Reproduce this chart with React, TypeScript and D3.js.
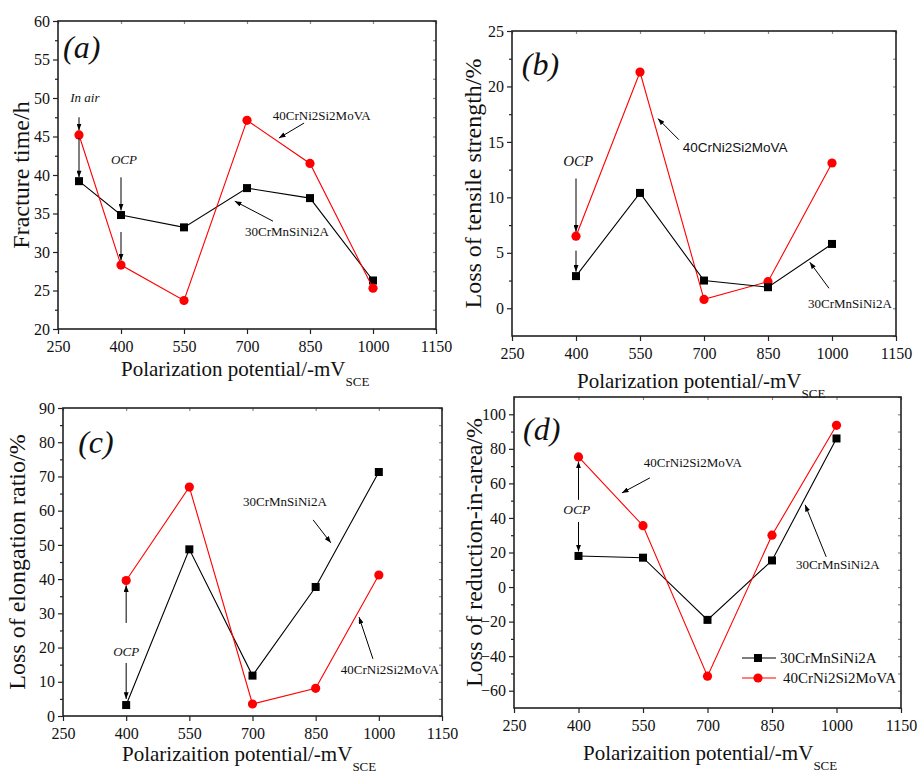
import React, { useEffect, useRef } from "react";
import * as d3 from "d3";

// x values (polarization potential, -mV SCE)
const potentialsA = [300, 400, 550, 700, 850, 1000];
const potentials = [400, 550, 700, 850, 1000];
const xTickValues = [250, 400, 550, 700, 850, 1000, 1150];

// (a) fracture time / h
const fracture30 = [39.2, 34.8, 33.2, 38.3, 37.0, 26.3];
const fracture40 = [45.2, 28.3, 23.7, 47.1, 41.5, 25.3];

// (b) loss of tensile strength / %
const tensile30 = [2.9, 10.4, 2.5, 1.9, 5.8];
const tensile40 = [6.5, 21.3, 0.8, 2.4, 13.1];

// (c) loss of elongation ratio / %
const elong30 = [3.2, 48.7, 11.8, 37.7, 71.3];
const elong40 = [39.6, 66.9, 3.5, 8.1, 41.2];

// (d) loss of reduction-in-area / %
const area30 = [18, 17, -19, 15.4, 86];
const area40 = [75.3, 35.5, -51.6, 30, 93.6];

const steel30 = "30CrMnSiNi2A";
const steel40 = "40CrNi2Si2MoVA";

const SERIF = "'Liberation Serif', 'Times New Roman', serif";
const SANS = "'Liberation Sans', Arial, sans-serif";

type Label = { text: string; x: number; y: number; size: number; italic?: boolean; sans?: boolean; anchor?: string };
type Arrow = { x1: number; y1: number; x2: number; y2: number };

type PanelCfg = {
    frame: { left: number; right: number; top: number; bottom: number };
    yDomain: [number, number];
    yTicks: number[];
    yMinor: number[];
    xs: number[];
    black: number[];
    red: number[];
    redOnTop: boolean;
    yLabel: string;
    yLabelX: number;
    xLabel: string;
    xLabelX: number;
    xLabelY: number;
    tag: string;
    tagPos: [number, number];
    labels: Label[];
    arrows: Arrow[];
    legend?: boolean;
};

const range = (a: number, b: number, s: number) => d3.range(a, b + s / 2, s);

const panels: PanelCfg[] = [
    {
        frame: { left: 58, right: 436, top: 21, bottom: 329 },
        yDomain: [20, 60],
        yTicks: range(20, 60, 5),
        yMinor: range(22.5, 57.5, 5),
        xs: potentialsA,
        black: fracture30,
        red: fracture40,
        redOnTop: true,
        yLabel: "Fracture time/h",
        yLabelX: 29,
        xLabel: "Polarization potential/-mV",
        xLabelX: 121,
        xLabelY: 376,
        tag: "(a)",
        tagPos: [262, 55.2],
        labels: [
            { text: "In air", x: 314, y: 49.5, size: 13, italic: true },
            { text: "OCP", x: 407, y: 41.4, size: 13, italic: true },
            { text: steel40, x: 878, y: 47.1, size: 13 },
            { text: steel30, x: 795, y: 32.1, size: 13 },
        ],
        arrows: [
            { x1: 300, y1: 47.5, x2: 300, y2: 45.8 },
            { x1: 300, y1: 44.8, x2: 300, y2: 39.7 },
            { x1: 400, y1: 39.7, x2: 400, y2: 35.4 },
            { x1: 400, y1: 32.6, x2: 400, y2: 28.9 },
            { x1: 836, y1: 46.75, x2: 776, y2: 44.8 },
            { x1: 762, y1: 34.0, x2: 671, y2: 36.6 },
        ],
    },
    {
        frame: { left: 512, right: 896, top: 31, bottom: 336 },
        yDomain: [-2.5, 25],
        yTicks: range(0, 25, 5),
        yMinor: range(-2.5, 22.5, 5),
        xs: potentials,
        black: tensile30,
        red: tensile40,
        redOnTop: false,
        yLabel: "Loss of tensile strength/%",
        yLabelX: 481,
        xLabel: "Polarization potential/-mV",
        xLabelX: 577,
        xLabelY: 388,
        tag: "(b)",
        tagPos: [273, 21.0],
        labels: [
            { text: "OCP", x: 405, y: 12.8, size: 15, italic: true },
            { text: steel40, x: 773, y: 14.1, size: 13.5, sans: true },
            { text: steel30, x: 1042, y: 0.0, size: 13 },
        ],
        arrows: [
            { x1: 400, y1: 11.7, x2: 400, y2: 6.9 },
            { x1: 400, y1: 5.2, x2: 400, y2: 3.3 },
            { x1: 641, y1: 15.2, x2: 592, y2: 17.1 },
            { x1: 993, y1: 1.8, x2: 948, y2: 4.15 },
        ],
    },
    {
        frame: { left: 63, right: 442, top: 408, bottom: 716 },
        yDomain: [0, 90],
        yTicks: range(0, 90, 10),
        yMinor: range(5, 85, 10),
        xs: potentials,
        black: elong30,
        red: elong40,
        redOnTop: true,
        yLabel: "Loss of elongation ratio/%",
        yLabelX: 25,
        xLabel: "Polarizaition potential/-mV",
        xLabelX: 122,
        xLabelY: 761,
        tag: "(c)",
        tagPos: [286, 76.9],
        labels: [
            { text: steel30, x: 777, y: 61.4, size: 13 },
            { text: steel40, x: 1026, y: 12.4, size: 13 },
            { text: "OCP", x: 400, y: 17.6, size: 13, italic: true },
        ],
        arrows: [
            { x1: 844, y1: 57.3, x2: 886, y2: 50.6 },
            { x1: 986, y1: 16.7, x2: 953, y2: 28.9 },
            { x1: 400, y1: 15.5, x2: 400, y2: 5.0 },
            { x1: 400, y1: 27.2, x2: 400, y2: 38.2 },
        ],
    },
    {
        frame: { left: 514, right: 901, top: 397, bottom: 708 },
        yDomain: [-70, 110],
        yTicks: range(-60, 100, 20),
        yMinor: range(-70, 110, 20),
        xs: potentials,
        black: area30,
        red: area40,
        redOnTop: true,
        yLabel: "Loss of reduction-in-area/%",
        yLabelX: 482,
        xLabel: "Polarizaition potential/-mV",
        xLabelX: 583,
        xLabelY: 760,
        tag: "(d)",
        tagPos: [271, 85],
        labels: [
            { text: steel40, x: 666, y: 69.7, size: 13 },
            { text: "OCP", x: 396, y: 42.4, size: 13.5, italic: true },
            { text: steel30, x: 1003, y: 10.6, size: 13 },
        ],
        arrows: [
            { x1: 566, y1: 63.2, x2: 501, y2: 54.5 },
            { x1: 400, y1: 50.5, x2: 400, y2: 72.6 },
            { x1: 400, y1: 37.7, x2: 400, y2: 20.6 },
            { x1: 976, y1: 17.5, x2: 927, y2: 47.6 },
        ],
        legend: true,
    },
];

function drawPanel(root: d3.Selection<SVGSVGElement, unknown, null, undefined>, cfg: PanelCfg)
{
    const { left, right, top, bottom } = cfg.frame;
    const x = d3.scaleLinear().domain([250, 1150]).range([left, right]);
    const y = d3.scaleLinear().domain(cfg.yDomain).range([bottom, top]);

    const g = root.append("g").style("font-family", SERIF);

    // ticks: left / bottom outward, right / top small inward
    const styleAxis = (sel: any) =>
    {
        sel.select(".domain").remove();
        sel.selectAll("line").attr("stroke", "#222").attr("stroke-width", 1.2);
        sel.selectAll("text").style("font-family", SERIF).style("font-size", "16px").attr("fill", "#111");
    };

    g.append("g")
        .attr("transform", `translate(${left},0)`)
        .call(d3.axisLeft(y).tickValues(cfg.yTicks).tickSize(5).tickPadding(3).tickSizeOuter(0).tickFormat(d3.format("d")))
        .call(styleAxis);
    g.append("g")
        .attr("transform", `translate(${left},0)`)
        .call(d3.axisLeft(y).tickValues(cfg.yMinor.filter((v) => v > cfg.yDomain[0] && v < cfg.yDomain[1])).tickSize(3).tickSizeOuter(0).tickFormat(() => ""))
        .call(styleAxis);
    g.append("g")
        .attr("transform", `translate(${right},0)`)
        .call(d3.axisRight(y).tickValues([...cfg.yTicks, ...cfg.yMinor]).tickSize(-3).tickSizeOuter(0).tickFormat(() => ""))
        .call(styleAxis)
        .selectAll("line").attr("stroke", "#888");
    g.append("g")
        .attr("transform", `translate(0,${bottom})`)
        .call(d3.axisBottom(x).tickValues(xTickValues).tickSize(5).tickPadding(7).tickSizeOuter(0).tickFormat(d3.format("d")))
        .call(styleAxis);
    g.append("g")
        .attr("transform", `translate(0,${top})`)
        .call(d3.axisTop(x).tickValues(xTickValues).tickSize(-3).tickSizeOuter(0).tickFormat(() => ""))
        .call(styleAxis)
        .selectAll("line").attr("stroke", "#888");

    g.append("rect")
        .attr("x", left)
        .attr("y", top)
        .attr("width", right - left)
        .attr("height", bottom - top)
        .attr("fill", "none")
        .attr("stroke", "#222")
        .attr("stroke-width", 1.6);

    // axis titles
    g.append("text")
        .attr("transform", `translate(${cfg.yLabelX},${(top + bottom) / 2}) rotate(-90)`)
        .attr("text-anchor", "middle")
        .style("font-size", "24px")
        .attr("fill", "#111")
        .text(cfg.yLabel);

    const xt = g.append("text")
        .attr("x", cfg.xLabelX)
        .attr("y", cfg.xLabelY)
        .style("font-size", "21px")
        .attr("fill", "#111");
    xt.append("tspan").text(cfg.xLabel);
    xt.append("tspan").attr("dy", 10).style("font-size", "13px").text("SCE");

    // series
    const line = d3.line<number>().x((d, i) => x(cfg.xs[i])).y((d) => y(d));

    const drawBlack = () =>
    {
        g.append("path").attr("d", line(cfg.black)).attr("fill", "none").attr("stroke", "#000").attr("stroke-width", 1.1);
        g.selectAll(null)
            .data(cfg.black)
            .enter()
            .append("rect")
            .attr("x", (d, i) => x(cfg.xs[i]) - 4)
            .attr("y", (d) => y(d) - 4)
            .attr("width", 8)
            .attr("height", 8)
            .attr("fill", "#000");
    };
    const drawRed = () =>
    {
        g.append("path").attr("d", line(cfg.red)).attr("fill", "none").attr("stroke", "#ff0000").attr("stroke-width", 1.1);
        g.selectAll(null)
            .data(cfg.red)
            .enter()
            .append("circle")
            .attr("cx", (d, i) => x(cfg.xs[i]))
            .attr("cy", (d) => y(d))
            .attr("r", 4.6)
            .attr("fill", "#ff0000");
    };
    if (cfg.redOnTop) { drawBlack(); drawRed(); }
    else { drawRed(); drawBlack(); }

    // panel tag
    g.append("text")
        .attr("x", x(cfg.tagPos[0]))
        .attr("y", y(cfg.tagPos[1]))
        .style("font-size", "32px")
        .style("font-style", "italic")
        .attr("fill", "#111")
        .text(cfg.tag);

    cfg.labels.forEach((l) =>
    {
        g.append("text")
            .attr("x", x(l.x))
            .attr("y", y(l.y))
            .attr("text-anchor", l.anchor || "middle")
            .style("font-size", `${l.size}px`)
            .style("font-style", l.italic ? "italic" : "normal")
            .style("font-family", l.sans ? SANS : SERIF)
            .attr("fill", "#111")
            .text(l.text);
    });

    cfg.arrows.forEach((a) =>
    {
        g.append("line")
            .attr("x1", x(a.x1))
            .attr("y1", y(a.y1))
            .attr("x2", x(a.x2))
            .attr("y2", y(a.y2))
            .attr("stroke", "#000")
            .attr("stroke-width", 1)
            .attr("marker-end", "url(#arrowHead)");
    });

    if (cfg.legend)
    {
        const legend = g.append("g").attr("transform", `translate(${right - 159},${bottom - 50})`);
        const rows = [
            { name: steel30, color: "#000", shape: "square" },
            { name: steel40, color: "#ff0000", shape: "circle" },
        ];
        rows.forEach((r, i) =>
        {
            const row = legend.append("g").attr("transform", `translate(0,${i * 20})`);
            row.append("line").attr("x1", 0).attr("x2", 34).attr("stroke", r.color).attr("stroke-width", 1.2);
            if (r.shape === "square")
                row.append("rect").attr("x", 12).attr("y", -4).attr("width", 8).attr("height", 8).attr("fill", r.color);
            else
                row.append("circle").attr("cx", 16).attr("r", 4.6).attr("fill", r.color);
            row.append("text")
                .attr("x", i === 0 ? 38 : 41)
                .attr("y", 5)
                .style("font-size", "15px")
                .attr("fill", "#111")
                .text(r.name);
        });
    }
}

export default function App()
{
    const ref = useRef<SVGSVGElement>(null);

    useEffect(() =>
    {
        const svg = d3.select(ref.current!);
        svg.selectAll("*").remove();

        svg.append("defs")
            .append("marker")
            .attr("id", "arrowHead")
            .attr("markerUnits", "userSpaceOnUse")
            .attr("viewBox", "0 0 8 6")
            .attr("refX", 8)
            .attr("refY", 3)
            .attr("markerWidth", 7)
            .attr("markerHeight", 5)
            .attr("orient", "auto")
            .append("path")
            .attr("d", "M0,0 L8,3 L0,6 Z")
            .attr("fill", "#000");

        panels.forEach((p) => drawPanel(svg, p));
    }, []);

    return (
        <div style={{ position: "absolute", left: 0, top: 0 }}>
            <svg ref={ref} width={917} height={771} style={{ display: "block", background: "#fff" }} />
        </div>
    );
}
